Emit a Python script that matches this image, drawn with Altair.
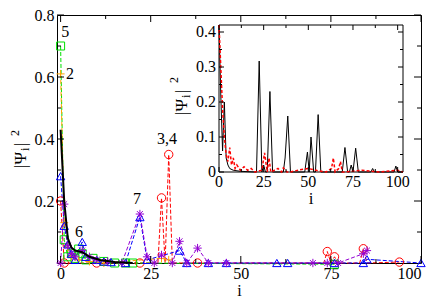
import altair as alt
import pandas as pd

FONT = "Liberation Serif, Times New Roman, DejaVu Serif, serif"

# ---------------- main panel data ----------------
red_i = [0, 1, 10, 22, 27, 28, 29, 30, 31, 38, 73, 74, 75, 76, 77, 83, 84, 85, 94]
red_v = [0.20, 0.0, 0.0, 0.0, 0.0, 0.21, 0.0, 0.35, 0.0, 0.0, 0.0, 0.037, 0.0, 0.02, 0.0, 0.0, 0.046, 0.0, 0.003]
red_m = [1, 1, 1, 1, 0, 1, 0, 1, 0, 1, 0, 1, 0, 1, 0, 0, 1, 0, 1]

green_i = [0, 1, 2, 3, 4, 5, 6, 7, 9, 12, 15, 18, 20, 76]
green_v = [0.70, 0.075, 0.02, 0.03, 0.015, 0.045, 0.03, 0.01, 0.015, 0.005, 0.0, 0.0, 0.0, -0.004]

orange_i = [0, 1, 2, 3, 5, 8, 12, 28, 30]
orange_v = [0.61, 0.13, 0.05, 0.02, 0.01, 0.005, 0.0, 0.015, 0.01]

blue_i = [0, 1, 2, 3, 4, 6, 7, 10, 12, 14, 18, 22, 24, 33, 35, 41, 46, 60, 63, 76, 84, 85, 100]
blue_v = [0.28, 0.12, 0.06, 0.03, 0.01, 0.068, 0.02, 0.01, 0.005, 0.003, 0.0, 0.148, 0.01, 0.04,
          0.0, 0.0, 0.0, 0.0, 0.0, 0.0, 0.0, 0.012, 0.0]

purple_i = [0, 1, 2, 3, 4, 6, 8, 10, 13, 17, 22, 24, 26, 28, 31, 33, 35, 38, 41, 46, 70, 74, 77, 84, 85]
purple_v = [0.0, 0.19, 0.056, 0.03, 0.02, 0.04, 0.02, 0.01, 0.005, 0.0, 0.158, 0.02, 0.0, 0.026, 0.0,
            0.07, 0.0, 0.048, 0.0, 0.0, 0.0, 0.0, 0.0, 0.03, 0.04]

black_i = [0, 1, 2, 3, 4, 6, 8, 11, 15, 20]
black_v = [0.43, 0.2, 0.08, 0.05, 0.04, 0.035, 0.02, 0.01, 0.003, 0.0]

ann_text = ["5", "2", "3,4", "7", "6"]
ann_i = [1.3, 2.6, 29.5, 21.2, 5.1]
ann_v = [0.745, 0.61, 0.40, 0.205, 0.10]

main_x_major = [0, 25, 50, 75, 100]
main_x_minor = [12.5, 37.5, 62.5, 87.5]
main_y_major = [0.2, 0.4, 0.6, 0.8]
main_y_minor = [0.1, 0.3, 0.5, 0.7]

# ---------------- inset data ----------------
ins_black_i = [0, 1, 2, 3, 4, 5, 6, 8, 12, 20, 21, 22.5, 24, 25, 26, 27, 28.5, 30, 36, 37, 38.5, 40,
               48, 49.5, 50.5, 51.5, 53, 54, 55.5, 57, 69, 70.5, 72, 73, 74, 75, 76.5, 78, 85, 86, 87,
               98, 99, 100, 103]
ins_black_v = [0.42, 0.22, 0.06, 0.20, 0.04, 0.02, 0.01, 0.005, 0.002, 0.0, 0.0, 0.317, 0.0, 0.02, 0.0,
               0.0, 0.23, 0.0, 0.0, 0.04, 0.16, 0.0, 0.0, 0.057, 0.0, 0.10, 0.0, 0.0, 0.164, 0.0,
               0.0, 0.07, 0.0, 0.0, 0.02, 0.0, 0.068, 0.0, 0.0, 0.01, 0.0, 0.0, 0.017, 0.0, 0.0]

ins_red_i = [0, 1, 2, 3, 4, 5, 6, 7, 8, 9, 10, 12, 14, 16, 18, 20, 24, 25.5, 27, 28, 29, 33, 35, 36,
             38, 40, 45, 50, 55, 60, 63, 64, 65, 67, 68, 69, 70, 80, 90, 100, 103]
ins_red_v = [0.42, 0.30, 0.18, 0.10, 0.05, 0.03, 0.07, 0.02, 0.04, 0.01, 0.02, 0.005, 0.015, 0.005,
             0.01, 0.0, 0.005, 0.055, 0.0, 0.04, 0.0, 0.01, 0.0, 0.012, 0.0, 0.0, 0.006, 0.01, 0.004,
             0.0, 0.01, 0.04, 0.0, 0.01, 0.03, 0.0, 0.0, 0.005, 0.0, 0.005, 0.0]

ins_x_major = [0, 25, 50, 75, 100]
ins_x_minor = [12.5, 37.5, 62.5, 87.5]
ins_y_major = [0.0, 0.1, 0.2, 0.3, 0.4]
ins_y_minor = [0.05, 0.15, 0.25, 0.35]

# ---------------- layout ----------------
W, H = 364, 248
PT = 7  # top padding -> plot top at page y = 15
IX0, IX1, IY0, IY1 = 162, 346, 10, 157   # inset box in plot pixels

XS = alt.Scale(domain=[-1, 100], nice=False, zero=False)
YS = alt.Scale(domain=[0, 0.8], nice=False, zero=False)
XAX = alt.Axis(values=main_x_major, ticks=False, domain=False, grid=False, labelFont=FONT,
               labelFontSize=16, labelPadding=2, labelColor="black", title="i", titleFont=FONT,
               titleFontSize=16, titleFontWeight="normal", titlePadding=1, titleColor="black")
YAX = alt.Axis(values=main_y_major, format=".1f", ticks=False, domain=False, grid=False,
               labelFont=FONT, labelFontSize=16, labelPadding=3, labelColor="black", title=None)

XI = alt.Scale(domain=[0, 103], range=[IX0, IX1], nice=False, zero=False)
YI = alt.Scale(domain=[0, 0.42], range=[IY1, IY0], nice=False, zero=False)


def mx(f):
    return alt.X(f, type="quantitative", scale=XS, axis=XAX)


def my(f):
    return alt.Y(f, type="quantitative", scale=YS, axis=YAX)


def ix(f):
    return alt.X(f, type="quantitative", scale=XI, axis=None)


def iy(f):
    return alt.Y(f, type="quantitative", scale=YI, axis=None)


ONE = pd.DataFrame({"k": [0]})

# ---------------- main layers ----------------
series = [
    ("red", red_i, red_v, red_m, "#ff0000", "circle", 70),
    ("green", green_i, green_v, None, "#00e000", "square", 64),
    ("orange", orange_i, orange_v, None, "#ffa500", "M-1,0L1,0M0,-1L0,1", 64),
    ("blue", blue_i, blue_v, None, "#0000ff", "triangle-up", 70),
    ("purple", purple_i, purple_v, None, "#9400d3",
     "M-1,0L1,0M0,-1L0,1M-0.7,-0.7L0.7,0.7M-0.7,0.7L0.7,-0.7", 70),
]

main_layers = []
point_layers = []
for name, xi, yv, mk, col, shp, sz in series:
    df = pd.DataFrame({"i": xi, "v": yv, "m": mk if mk is not None else [1] * len(xi)})
    main_layers.append(
        alt.Chart(df).mark_line(color=col, strokeWidth=1, strokeDash=[4, 2])
        .encode(x=mx("i"), y=my("v"), order="i:Q")
    )
    point_layers.append(
        alt.Chart(df).transform_filter("datum.m == 1")
        .mark_point(shape=shp, filled=False, color=col, strokeWidth=1, size=sz, opacity=1)
        .encode(x=mx("i"), y=my("v"))
    )
main_layers += point_layers

bdf = pd.DataFrame({"i": black_i, "v": black_v})
main_layers.append(alt.Chart(bdf).mark_line(color="black", strokeWidth=2).encode(x=mx("i"), y=my("v")))

adf = pd.DataFrame({"t": ann_text, "i": ann_i, "v": ann_v})
main_layers.append(
    alt.Chart(adf).mark_text(font=FONT, fontSize=16, color="black", baseline="middle", align="center")
    .encode(x=mx("i"), y=my("v"), text="t:N")
)


# inward ticks on all four sides
def xticks(vals, L):
    d = pd.DataFrame({"t": vals})
    b = alt.Chart(d).mark_rule(color="black", strokeWidth=1).encode(
        x=mx("t"), y=alt.value(H), y2=alt.value(H - L))
    t = alt.Chart(d).mark_rule(color="black", strokeWidth=1).encode(
        x=mx("t"), y=alt.value(0), y2=alt.value(L))
    return [b, t]


def yticks(vals, L):
    d = pd.DataFrame({"t": vals})
    l = alt.Chart(d).mark_rule(color="black", strokeWidth=1).encode(
        y=my("t"), x=alt.value(0), x2=alt.value(L))
    r = alt.Chart(d).mark_rule(color="black", strokeWidth=1).encode(
        y=my("t"), x=alt.value(W), x2=alt.value(W - L))
    return [l, r]


main_layers += xticks(main_x_major, 7) + xticks(main_x_minor, 4)
main_layers += yticks(main_y_major, 7) + yticks(main_y_minor, 4)


# rotated title pieces (|Psi_i|^2)
def rtext(s, x, y, size, align="left"):
    return alt.Chart(ONE).mark_text(text=s, font=FONT, fontSize=size, angle=270, align=align,
                                    baseline="alphabetic", color="black").encode(
        x=alt.value(x), y=alt.value(y))


main_layers += [
    rtext("|\u03a8", -31, 153, 17),
    rtext("i", -28, 136, 12),
    rtext("|", -31, 131, 17),
    rtext("2", -38, 121, 12),
]

# ---------------- inset layers ----------------
frame = pd.DataFrame({"a": [0], "b": [103], "c": [0.0], "d": [0.42]})
inset_layers = [
    alt.Chart(frame).mark_rect(fill="white", stroke="black", strokeWidth=1).encode(
        x=ix("a"), x2="b", y=iy("c"), y2="d")
]
irdf = pd.DataFrame({"i": ins_red_i, "v": ins_red_v})
ibdf = pd.DataFrame({"i": ins_black_i, "v": ins_black_v})
inset_layers.append(alt.Chart(ibdf).mark_line(color="black", strokeWidth=1).encode(x=ix("i"), y=iy("v")))
inset_layers.append(alt.Chart(irdf).mark_line(color="#ff0000", strokeWidth=1.5, strokeDash=[3, 2])
                    .encode(x=ix("i"), y=iy("v")))


def ixticks(vals, L):
    d = pd.DataFrame({"t": vals})
    return [
        alt.Chart(d).mark_rule(color="black").encode(x=ix("t"), y=alt.value(IY1), y2=alt.value(IY1 - L)),
        alt.Chart(d).mark_rule(color="black").encode(x=ix("t"), y=alt.value(IY0), y2=alt.value(IY0 + L)),
    ]


def iyticks(vals, L):
    d = pd.DataFrame({"t": vals})
    return [
        alt.Chart(d).mark_rule(color="black").encode(y=iy("t"), x=alt.value(IX0), x2=alt.value(IX0 + L)),
        alt.Chart(d).mark_rule(color="black").encode(y=iy("t"), x=alt.value(IX1), x2=alt.value(IX1 - L)),
    ]


inset_layers += ixticks(ins_x_major, 5) + ixticks(ins_x_minor, 3)
inset_layers += iyticks(ins_y_major, 5) + iyticks(ins_y_minor, 3)

ixl = pd.DataFrame({"t": ins_x_major, "s": [str(v) for v in ins_x_major]})
iyl = pd.DataFrame({"t": ins_y_major, "s": ["0", "0.1", "0.2", "0.3", "0.4"]})
inset_layers.append(
    alt.Chart(ixl).mark_text(font=FONT, fontSize=16, baseline="top", align="center", color="black")
    .encode(x=ix("t"), y=alt.value(IY1 + 2), text="s:N"))
inset_layers.append(
    alt.Chart(iyl).mark_text(font=FONT, fontSize=16, baseline="middle", align="right", color="black")
    .encode(x=alt.value(IX0 - 3), y=iy("t"), text="s:N"))
inset_layers.append(
    alt.Chart(ONE).mark_text(text="i", font=FONT, fontSize=17, baseline="top", align="center", color="black")
    .encode(x=alt.value((IX0 + IX1) / 2), y=alt.value(IY1 + 19)))
inset_layers += [
    rtext("|\u03a8", 130, 100, 17),
    rtext("i", 133, 83, 12),
    rtext("|", 130, 78, 17),
    rtext("2", 121, 68, 12),
]

chart = alt.layer(
    alt.layer(*main_layers),
    alt.layer(*inset_layers),
).resolve_scale(x="independent", y="independent").properties(
    width=W, height=H,
    autosize=alt.AutoSizeParams(type="none"),
    padding={"left": 49, "top": PT, "right": 7, "bottom": 36},
).configure_view(stroke="black", strokeWidth=1)

chart.save("out.html", embed_options={"renderer": "svg", "actions": False})
